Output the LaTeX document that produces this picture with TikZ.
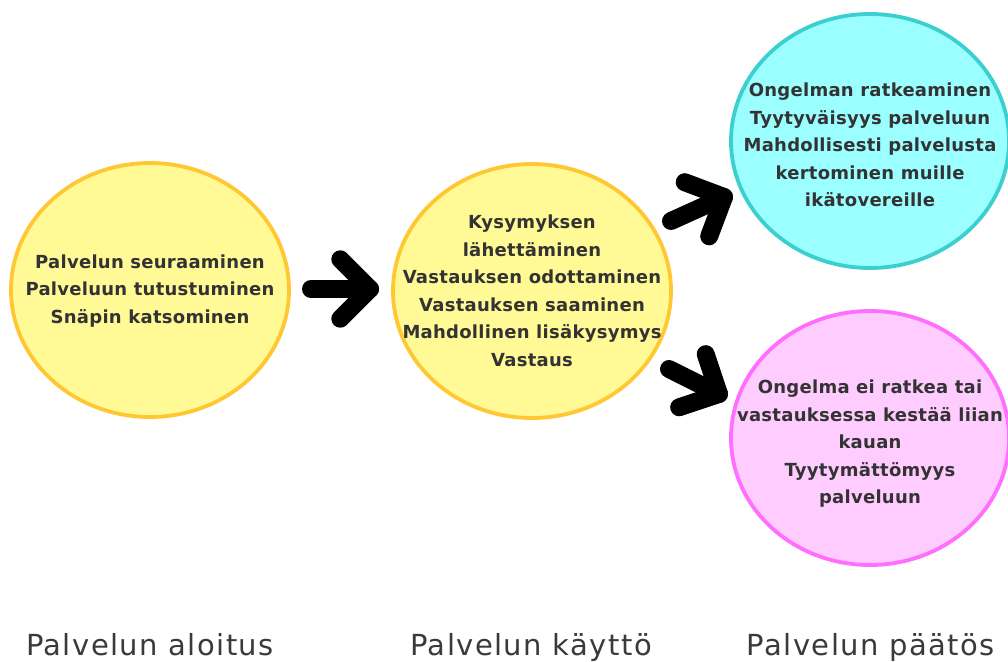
\documentclass[tikz,border=0pt]{standalone}
\usepackage{fontspec}
\setmainfont{DejaVu Sans}
\newfontfamily\circfont[LetterSpace=1.5]{DejaVu Sans}
\newfontfamily\labfont[LetterSpace=5]{DejaVu Sans}
\usetikzlibrary{shapes.geometric,calc}
\definecolor{yelfill}{HTML}{FFFA96}
\definecolor{yelline}{HTML}{FFC832}
\definecolor{cyafill}{HTML}{9BFFFF}
\definecolor{cyaline}{HTML}{3CCFCF}
\definecolor{pinfill}{HTML}{FFCCFF}
\definecolor{pinline}{HTML}{FF6EFF}
\definecolor{txt}{HTML}{333333}
\definecolor{labtxt}{HTML}{3A3A3A}
\begin{document}
\begin{tikzpicture}[x=1pt,y=-1pt,
  stage/.style={ellipse, draw, line width=3.8pt, minimum width=278pt, minimum height=254pt,
    inner sep=0pt},
  stagetext/.style={align=center, text=txt, inner sep=0pt,
    font=\circfont\bfseries\fontsize{18}{27.5}\selectfont},
  chevron/.style={line width=18pt, line cap=round, line join=round, draw=black},
  phase/.style={anchor=base, text=labtxt, font=\labfont\fontsize{29}{30}\selectfont}
]
\useasboundingbox (0,0) rectangle (1008,661);
\fill[white] (0,0) rectangle (1008,661);

\node[stage, fill=yelfill, draw=yelline] (start) at (150,290) {};
\node[stagetext] (starttext) at ([yshift=-1pt]start.center)
  {Palvelun seuraaminen\\Palveluun tutustuminen\\Snäpin katsominen};
\node[stage, fill=yelfill, draw=yelline] (use) at (532,291) {};
\node[stagetext] (usetext) at (use.center)
  {Kysymyksen\\lähettäminen\\Vastauksen odottaminen\\Vastauksen saaminen\\Mahdollinen lisäkysymys\\Vastaus};
\node[stage, fill=cyafill, draw=cyaline] (good) at (870,141) {};
\node[stagetext] (goodtext) at ([yshift=-4pt]good.center)
  {Ongelman ratkeaminen\\Tyytyväisyys palveluun\\Mahdollisesti palvelusta\\kertominen muille\\ikätovereille};
\node[stage, fill=pinfill, draw=pinline] (bad) at (870,438) {};
\node[stagetext] (badtext) at ([yshift=-6pt]bad.center)
  {Ongelma ei ratkea tai\\vastauksessa kestää liian\\kauan\\Tyytymättömyys\\palveluun};

% arrows
\coordinate (a1t) at (311,289); \coordinate (a1h) at (370,289);
\coordinate (a2t) at (671,221); \coordinate (a2h) at (724,197);
\coordinate (a3t) at (669,369); \coordinate (a3h) at (719,394);
\foreach \t/\h in {a1t/a1h, a2t/a2h, a3t/a3h}{
  \draw[chevron] (\t) -- (\h);
  \draw[chevron] ($(\h)!42pt!45:(\t)$) -- (\h) -- ($(\h)!42pt!-45:(\t)$);
}

\node[phase] (p1) at (150,655) {Palvelun aloitus};
\node[phase] (p2) at (531,655) {Palvelun käyttö};
\node[phase] (p3) at (871,655) {Palvelun päätös};
\end{tikzpicture}
\end{document}
